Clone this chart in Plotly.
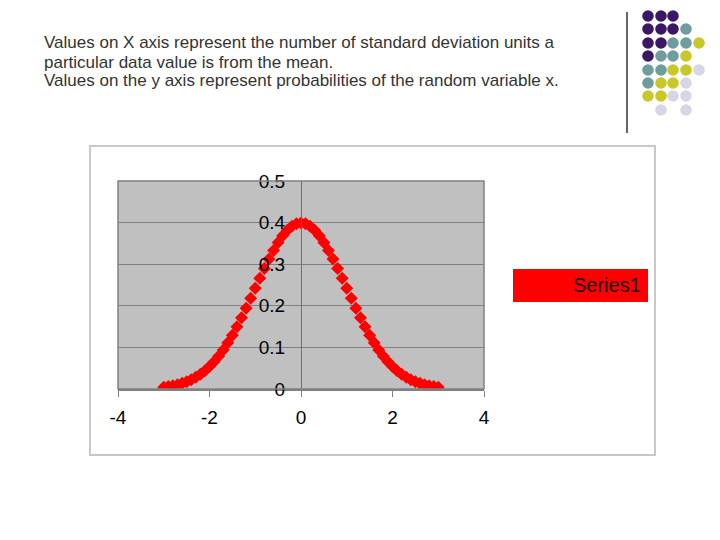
import plotly.graph_objects as go

# Data: standard normal density (x in SD units)
x_vals = [-3.0, -2.9, -2.8, -2.7, -2.6, -2.5, -2.4, -2.3, -2.2, -2.1,
          -2.0, -1.9, -1.8, -1.7, -1.6, -1.5, -1.4, -1.3, -1.2, -1.1,
          -1.0, -0.9, -0.8, -0.7, -0.6, -0.5, -0.4, -0.3, -0.2, -0.1,
          0.0, 0.1, 0.2, 0.3, 0.4, 0.5, 0.6, 0.7, 0.8, 0.9,
          1.0, 1.1, 1.2, 1.3, 1.4, 1.5, 1.6, 1.7, 1.8, 1.9,
          2.0, 2.1, 2.2, 2.3, 2.4, 2.5, 2.6, 2.7, 2.8, 2.9, 3.0]
y_vals = [0.0044, 0.0060, 0.0079, 0.0104, 0.0136, 0.0175, 0.0224, 0.0283, 0.0355, 0.0440,
          0.0540, 0.0656, 0.0790, 0.0940, 0.1109, 0.1295, 0.1497, 0.1714, 0.1942, 0.2179,
          0.2420, 0.2661, 0.2897, 0.3123, 0.3332, 0.3521, 0.3683, 0.3814, 0.3910, 0.3970,
          0.3989, 0.3970, 0.3910, 0.3814, 0.3683, 0.3521, 0.3332, 0.3123, 0.2897, 0.2661,
          0.2420, 0.2179, 0.1942, 0.1714, 0.1497, 0.1295, 0.1109, 0.0940, 0.0790, 0.0656,
          0.0540, 0.0440, 0.0355, 0.0283, 0.0224, 0.0175, 0.0136, 0.0104, 0.0079, 0.0060, 0.0044]
x_ticks = [-4, -2, 0, 2, 4]
y_ticks = [0, 0.1, 0.2, 0.3, 0.4, 0.5]
y_tick_text = ["0", "0.1", "0.2", "0.3", "0.4", "0.5"]
series_name = "Series1"
caption_lines = [
    "Values on X axis represent the number of standard deviation units a",
    "particular data value is from the mean.",
    "Values on the y axis represent probabilities of the random variable x.",
]

W, H = 720, 540
L, R, T, B = 118, 484, 181, 389  # plot area in pixels

FONT = "Arial, Liberation Sans, sans-serif"

fig = go.Figure()
fig.add_trace(go.Scatter(
    x=x_vals, y=y_vals, mode="markers", name=series_name,
    marker=dict(symbol="diamond", size=10, color="#ff0000", line=dict(width=0)),
    showlegend=False,
))


# pixel -> paper coords (paper is the plot domain)
def pxx(p):
    return (p - L) / (R - L)


def pxy(p):
    return (B - p) / (B - T)


shapes = []
# chart frame
shapes.append(dict(type="rect", xref="paper", yref="paper",
                   x0=pxx(90), x1=pxx(655), y0=pxy(455), y1=pxy(146),
                   line=dict(color="#c8c8c8", width=2), layer="below"))
# plot border
shapes.append(dict(type="rect", xref="paper", yref="paper", x0=0, x1=1, y0=0, y1=1,
                   line=dict(color="#808080", width=1.5)))
# legend box
shapes.append(dict(type="rect", xref="paper", yref="paper",
                   x0=pxx(513), x1=pxx(648), y0=pxy(302), y1=pxy(269),
                   fillcolor="#ff0000", line=dict(width=0)))
# vertical divider line (slide decoration)
shapes.append(dict(type="line", xref="paper", yref="paper",
                   x0=pxx(627), x1=pxx(627), y0=pxy(133), y1=pxy(12),
                   line=dict(color="#000000", width=1.2)))

# decorative dots
P, Tc, Y, Lc = "#3b1766", "#6f9c9c", "#c8c82a", "#d6d6e6"
cols = [648, 661, 673, 686, 699]
rows = [16, 29, 43, 56, 70, 83, 96, 110]
grid = [
    [P, P, P, None, None],
    [P, P, P, Tc, None],
    [P, P, Tc, Tc, Y],
    [P, Tc, Tc, Y, None],
    [Tc, Tc, Y, Y, Lc],
    [Tc, Y, Y, Lc, None],
    [Y, Y, Lc, Lc, None],
    [None, Lc, None, Lc, None],
]
r = 5.8
for ri, row in enumerate(grid):
    for ci, c in enumerate(row):
        if c is None:
            continue
        cx, cy = cols[ci], rows[ri]
        shapes.append(dict(type="circle", xref="paper", yref="paper",
                           x0=pxx(cx - r), x1=pxx(cx + r), y0=pxy(cy + r), y1=pxy(cy - r),
                           fillcolor=c, line=dict(width=0)))

annotations = []
for i, (line, yc) in enumerate(zip(caption_lines, [42, 62, 81])):
    annotations.append(dict(xref="paper", yref="paper", x=pxx(42), y=pxy(yc),
                            xanchor="left", yanchor="middle", showarrow=False,
                            text=line, font=dict(family=FONT, size=17, color="#333333")))
annotations.append(dict(xref="paper", yref="paper", x=pxx(643), y=pxy(285),
                        xanchor="right", yanchor="middle", showarrow=False, text=series_name,
                        font=dict(family=FONT, size=20, color="#1a0000")))

fig.update_layout(
    width=W, height=H,
    margin=dict(l=L, r=W - R, t=T, b=H - B, pad=0),
    paper_bgcolor="white",
    plot_bgcolor="#c0c0c0",
    shapes=shapes,
    annotations=annotations,
    font=dict(family=FONT, size=17, color="#000000"),
    showlegend=False,
)
fig.update_xaxes(
    range=[-4, 4], tickvals=x_ticks, ticktext=[str(v) for v in x_ticks],
    showgrid=False, zeroline=False, showline=True, linecolor="#808080", linewidth=1.5,
    ticks="outside", ticklen=6, tickcolor="#808080", tickwidth=1,
    tickfont=dict(family=FONT, size=19, color="#000000"), ticklabelstandoff=4,
)
fig.update_yaxes(
    range=[0, 0.5], tickvals=y_ticks, ticktext=y_tick_text,
    anchor="free", position=0.5,
    showgrid=True, gridcolor="#808080", gridwidth=1,
    zeroline=False, showline=True, linecolor="#707070", linewidth=1,
    ticks="", tickfont=dict(family=FONT, size=19, color="#000000"),
    ticklabelstandoff=12,
)

fig.write_html("out.html", config={"displayModeBar": False},
               post_script="document.body.style.margin='0px';")
